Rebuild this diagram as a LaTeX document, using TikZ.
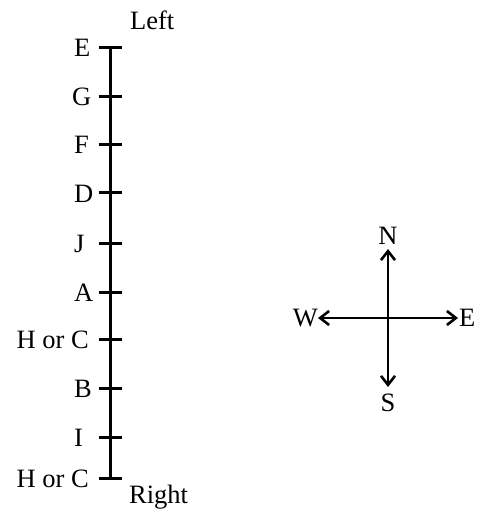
\documentclass[tikz,border=0pt]{standalone}
\usepackage{fontspec}
\setmainfont{Liberation Serif}
\usetikzlibrary{arrows.meta}
\begin{document}
\begin{tikzpicture}[x=1pt,y=-1pt,font=\fontsize{26.5}{29}\selectfont]
  \tikzset{
    rule/.style={line width=3pt},
    tick/.style={line width=3pt},
    seat/.style={inner sep=0pt},
    point/.style={line width=2.6pt,-{Straight Barb[length=9pt,width=14pt]}},
  }
  \path[use as bounding box] (0,0) rectangle (480,521);

  % seating line, left end on top
  \coordinate (top) at (110,48);
  \coordinate (bot) at (110,478);
  \draw[rule] (top) -- (bot);
  \foreach \y/\lab/\lx/\anc [count=\i] in {
    48/E/74/west, 97/G/72/west, 145/F/74/west, 193/D/74/west, 243/J/74/west,
    292/A/74/west, 339/{H or C}/89/east, 388/B/74/west, 437/I/74/west,
    478/{H or C}/89/east}{
    \coordinate (t\i) at (110,\y);
    \draw[tick] ([xshift=-11pt]t\i) -- ([xshift=12pt]t\i);
    \node[seat,anchor=base \anc] (s\i) at (\lx,{\y+9}) {\lab};
  }
  \node[seat,anchor=base west] (left) at (130,30) {Left};
  \node[seat,anchor=base west] (right) at (129,503) {Right};

  % compass
  \coordinate (c) at (388,318);
  \coordinate (ntip) at (388,249);
  \coordinate (stip) at (388,387);
  \coordinate (wtip) at (318,318);
  \coordinate (etip) at (458,318);
  \draw[point] (c) -- (ntip);
  \draw[point] (c) -- (stip);
  \draw[point] (c) -- (wtip);
  \draw[point] (c) -- (etip);
  \node[seat,anchor=base] (north) at (388,244) {N};
  \node[seat,anchor=base] (south) at (388,411) {S};
  \node[seat,anchor=base east] (west) at (318,326) {W};
  \node[seat,anchor=base west] (east) at (459,326) {E};
\end{tikzpicture}
\end{document}
